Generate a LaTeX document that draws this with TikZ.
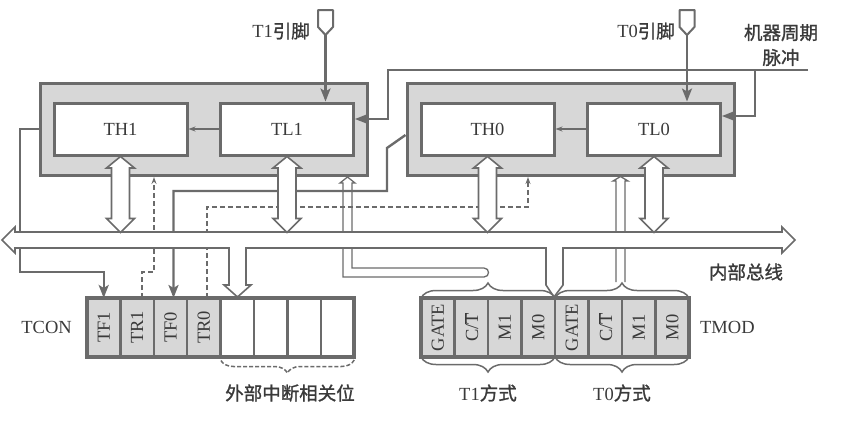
\documentclass[tikz,border=0pt]{standalone}
\usepackage{fontspec}
\setmainfont{Liberation Serif}
\newfontfamily\cjk{Noto Sans CJK SC}[FakeBold=1.2]
\usetikzlibrary{positioning,calc,arrows.meta,decorations.pathreplacing}
\definecolor{linegray}{HTML}{6B6B6B}
\definecolor{boxgray}{HTML}{D7D7D7}
\definecolor{textgray}{HTML}{3A3A3A}
\tikzset{
  timer/.style={draw=linegray, fill=boxgray, line width=3pt, minimum width=327pt, minimum height=92pt, inner sep=0pt},
  reg/.style={draw=linegray, fill=white, line width=3pt, minimum width=133pt, minimum height=52pt, inner sep=0pt, text=textgray},
  bitcell/.style={draw=linegray, line width=2.5pt, minimum width=33.4pt, minimum height=59pt, inner sep=0pt, outer sep=0pt, text=textgray},
  flag/.style={draw=linegray, line width=2.4pt, -{Stealth[length=13pt,width=10pt,inset=3pt]}},
  carry/.style={draw=linegray, line width=1.3pt, -{Stealth[length=7pt,width=5pt]}},
  ctrl/.style={draw=linegray, line width=1.3pt, dash pattern=on 5pt off 3pt, -{Stealth[length=7pt,width=5pt]}},
  hollow/.style={draw=linegray, fill=white, line width=1.6pt, line join=miter},
  pipe/.style={draw=linegray, line width=1.3pt},
  bracebar/.style={draw=linegray, line width=1.5pt, decorate, decoration={brace, amplitude=15pt}},
  pinshape/.style={draw=linegray, fill=white, line width=2pt, line join=round},
  lbl/.style={text=textgray, inner sep=0pt}
}
\begin{document}
\begin{tikzpicture}[x=1pt,y=-1pt,font=\fontsize{18.5pt}{22pt}\selectfont]
\useasboundingbox (0,0) rectangle (847,432);
% timer blocks
\node[timer] (t1) at (203.5,129) {};
\node[timer] (t0) at (570.5,129) {};
\node[reg] (th1) at (120.5,129) {TH1};
\node[reg] (tl1) at (287,129) {TL1};
\node[reg] (th0) at (487.5,129) {TH0};
\node[reg] (tl0) at (654,129) {TL0};
\draw[carry] (tl1) -- (th1);
\draw[carry] (tl0) -- (th0);

% pins
\coordinate (t1pin) at (325.5,35);
\coordinate (t0pin) at (687,35);
\foreach \p in {t1pin,t0pin}
  \draw[pinshape] (\p) -- ++(-7.5,-8) -- ++(0,-17) -- ++(15,0) -- ++(0,17) -- cycle;
\node[lbl, anchor=east] (t1name) at (310,31) {T1\cjk 引脚};
\node[lbl, anchor=east] (t0name) at (675,31) {T0\cjk 引脚};
\draw[flag] (t1pin) -- (t1pin |- tl1.north);
\draw[flag] (t0pin) -- (t0pin |- tl0.north);

% machine cycle pulses
\node[lbl, align=center, font=\fontsize{18.5pt}{25pt}\selectfont] (clk) at (781,45) {{\cjk 机器周期}\\{\cjk 脉冲}};
\coordinate (pulse) at (808,70);
\coordinate (pulsebr) at (755,70);
\draw[flag] (pulse) -- (388,70) |- ($(tl1.east)+(0,-10)$);
\draw[flag] (pulsebr) |- ($(tl0.east)+(0,-13)$);

% TCON
\foreach \n/\t [count=\i] in {tf1/TF1,tr1/TR1,tf0/TF0,tr0/TR0}
  \node[bitcell, fill=boxgray] (\n) at ({87+33.4*(\i-0.5)},327.5) {\rotatebox{90}{\t}};
\foreach \i in {5,...,8}
  \node[bitcell] (x\i) at ({87+33.4*(\i-0.5)},327.5) {};
\draw[draw=linegray, line width=3.5pt] (tf1.north west) rectangle (x8.south east);
\node[lbl, left=15pt of tf1] (tcon) {TCON};

% TMOD
\foreach \n/\t [count=\i] in {gate1/GATE, ct1/{C/$\overline{\hbox{T}}$}, mi1/M1, mo1/M0, gate0/GATE, ct0/{C/$\overline{\hbox{T}}$}, mi0/M1, mo0/M0}
  \node[bitcell, fill=boxgray] (\n) at ({421+33.5*(\i-0.5)},327.5) {\rotatebox{90}{\t}};
\draw[draw=linegray, line width=3.5pt] (gate1.north west) rectangle (mo0.south east);
\node[lbl, right=11pt of mo0] (tmod) {TMOD};

% overflow and run lines
\coordinate (tr1in) at (154,177);
\coordinate (tr0in) at (528,177);
\draw[flag] (t1.west) -| (20,272) -| (tf1.north);
\draw[flag] ($(t0.west)+(0,6)$) -- (387,148) -- (387,191) -| ($(tf0.north)+(3,0)$);
\draw[ctrl] ($(tr1.north)+(5,0)$) |- (154,272) -- (tr1in);
\draw[ctrl] ($(tr0.north)+(3,0)$) |- (528,207) -- (tr0in);

% mode pipes
\coordinate (t1mode) at (347.5,177);
\coordinate (t0mode) at (620.5,176.5);
\draw[pipe] (484,277) -- (343,277) -- (343,183) -- (340,183) -- (t1mode) -- (355,183) -- (352,183) -- (352,268) -- (484,268) .. controls (490,268) and (490,277) .. (484,277);
\draw[pipe] (616,282) -- (616,181) -- (613,181) -- (t0mode) -- (628,181) -- (625,181) -- (625,282);

% internal bus
\draw[hollow] (2,240) -- (15,227) -- (15,232) -- (782,232) -- (782,227) -- (795,240) -- (782,253) -- (782,248)
  -- (563,248) -- (563,285) -- (554,297) -- (546,285) -- (546,248)
  -- (246,248) -- (246,285) -- (251,285) -- (237.5,297) -- (224,285) -- (229,285) -- (229,248)
  -- (15,248) -- (15,253) -- cycle;
\foreach \r in {th1,tl1,th0,tl0}
  \draw[hollow] (\r.south) -- ++(14,11.5) -- ++(-5,0) -- ++(0,50.5) -- ++(5,0) -- ++(-14,14)
    -- ++(-14,-14) -- ++(5,0) -- ++(0,-50.5) -- ++(-5,0) -- cycle;
\node[lbl] (bus) at (746,272) {\cjk 内部总线};

% braces
\draw[bracebar] (gate1.north west) -- (mo1.north east);
\draw[bracebar] (gate0.north west) -- (mo0.north east);
\draw[bracebar] (mo1.south east) -- (gate1.south west);
\draw[bracebar] (mo0.south east) -- (gate0.south west);
\draw[bracebar, dash pattern=on 4pt off 2pt, decoration={brace, amplitude=13pt, raise=3pt}] (x8.south east) -- (x5.south west);
\node[lbl] (extbits) at (290,393) {\cjk 外部中断相关位};
\node[lbl] (t1mode name) at (488,393) {T1\cjk 方式};
\node[lbl] (t0mode name) at (622,393) {T0\cjk 方式};
\end{tikzpicture}
\end{document}
